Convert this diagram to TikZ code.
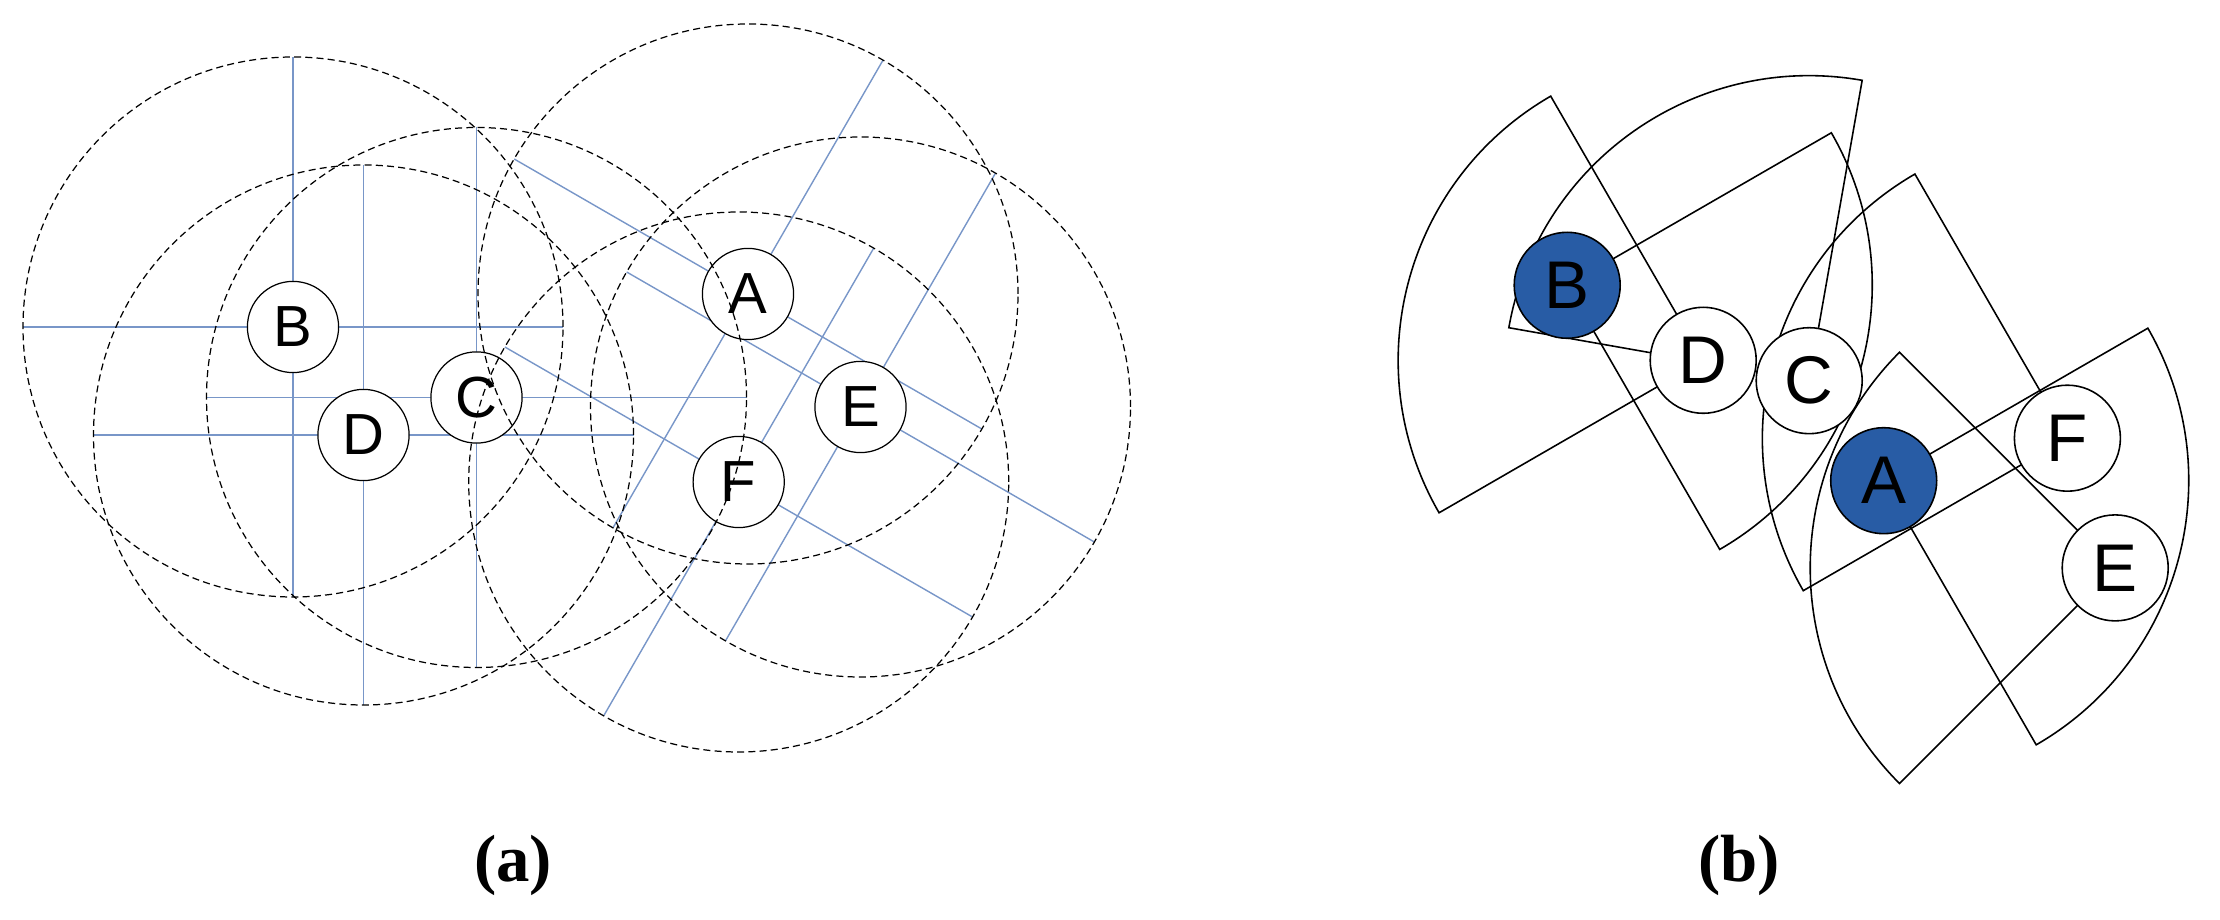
\documentclass[tikz,border=0pt]{standalone}
\usepackage{fontspec}
\setmainfont{Liberation Serif}
\setsansfont{Liberation Sans}
\usetikzlibrary{calc}

\definecolor{axisBlue}{RGB}{120,150,200}
\definecolor{headBlue}{RGB}{40,92,165}

\begin{document}
\begin{tikzpicture}[x=0.1mm, y=0.1mm,
		every node/.style={align=center},
		smallVertex/.style={
				draw, shape=circle, fill=white, line width=0.35pt,
				minimum size=9.12mm, inner sep=0pt,
				font=\sffamily\fontsize{16.5}{16.5}\selectfont
			},
		bigVertex/.style={
				draw, shape=circle, fill=white, line width=0.45pt,
				minimum size=10.6mm, inner sep=0pt,
				font=\sffamily\fontsize{19.2}{19.2}\selectfont
			},
		headVertex/.style={bigVertex, fill=headBlue},
		rangeCircle/.style={draw, dash pattern=on 2pt off 1.2pt, line width=0.35pt},
		axisLine/.style={draw=axisBlue, line width=0.4pt},
		beamLine/.style={draw, line width=0.45pt},
		caption/.style={font=\bfseries\fontsize{19}{19}\selectfont}
	]
	\useasboundingbox (0,0) rectangle (2220,920);

	% Left panel: omni ranges
	\coordinate (pB1) at (293,593);
	\coordinate (pD1) at (363.5,485);
	\coordinate (pC1) at (476.5,522.5);
	\coordinate (pA1) at (748,626);
	\coordinate (pE1) at (860.5,513);
	\coordinate (pF1) at (738.7,438);

	\foreach \p/\a in {pB1/0, pD1/0, pC1/0, pA1/60, pE1/60, pF1/60}{
			\draw[axisLine] ($(\p)+(\a:27mm)$) -- ($(\p)+({\a+180}:27mm)$);
			\draw[axisLine] ($(\p)+({\a+90}:27mm)$) -- ($(\p)+({\a+270}:27mm)$);
		}

	\node[smallVertex] (B1) at (pB1) {B};
	\node[smallVertex] (D1) at (pD1) {D};
	\node[smallVertex] (C1) at (pC1) {C};
	\node[smallVertex] (A1) at (pA1) {A};
	\node[smallVertex] (E1) at (pE1) {E};
	\node[smallVertex] (F1) at (pF1) {F};

	\foreach \p in {pB1, pD1, pC1, pA1, pE1, pF1}
	\draw[rangeCircle] (\p) circle[radius=27mm];

	% Right panel: directional beams
	\coordinate (pB2) at (1567.2,634.7);
	\coordinate (pD2) at (1703.2,559.7);
	\coordinate (pC2) at (1809.2,539.3);
	\coordinate (pA2) at (1883.7,439.3);
	\coordinate (pF2) at (2067.4,481.8);
	\coordinate (pE2) at (2115.2,352.1);

	\foreach \p/\s/\e in {pD2/120/210, pB2/-60/30, pC2/80/170, pF2/120/210, pA2/-60/30, pE2/135/225}
	\draw[beamLine] (\p) -- ++(\s:30.5mm) arc[start angle=\s, end angle=\e, radius=30.5mm] -- cycle;

	\node[headVertex] (B2) at (pB2) {B};
	\node[bigVertex] (D2) at (pD2) {D};
	\node[bigVertex] (C2) at (pC2) {C};
	\node[headVertex] (A2) at (pA2) {A};
	\node[bigVertex] (F2) at (pF2) {F};
	\node[bigVertex] (E2) at (pE2) {E};

	\node[caption] (capA) at (513,55) {(a)};
	\node[caption] (capB) at (1739,55) {(b)};
\end{tikzpicture}
\end{document}
